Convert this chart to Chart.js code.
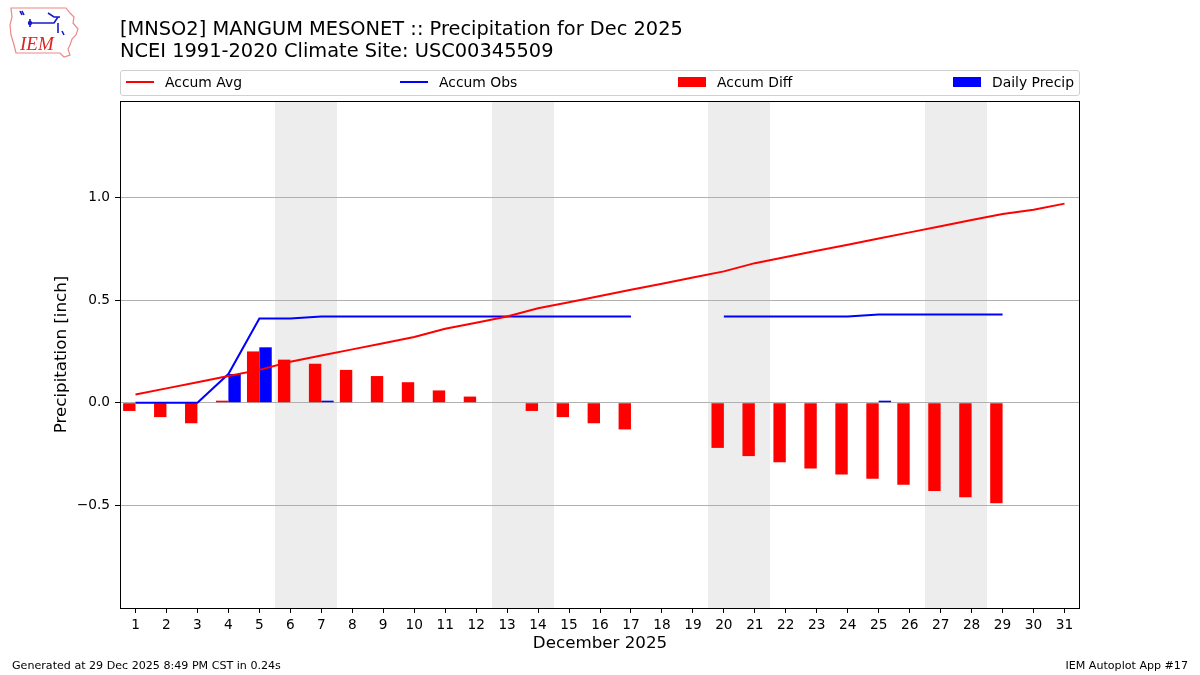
<!DOCTYPE html>
<html>
<head>
<meta charset="utf-8">
<title>MNSO2 Precipitation Dec 2025</title>
<script src="https://cdn.jsdelivr.net/npm/chart.js@4/dist/chart.umd.min.js"></script>
<style>
  body { margin: 0; background: #fff; font-family: 'DejaVu Sans', sans-serif; }
  #wrap { position: relative; width: 1200px; height: 675px; overflow: hidden; }
  #chart { position: absolute; left: 0; top: 0; }
  .title { position: absolute; left: 120px; font-size: 19.4px; color: #000; white-space: nowrap; }
  #legend { position: absolute; left: 120px; top: 70px; width: 958px; height: 24px;
            border: 1px solid #d0d0d0; border-radius: 3px; background: #fff; }
  .item { position: absolute; top: 0; height: 24px; line-height: 23px; font-size: 13.9px; white-space: nowrap; }
  .swatch { position: absolute; }
  .foot { position: absolute; top: 659px; font-size: 11.1px; color: #000; white-space: nowrap; }
  #logo { position: absolute; left: 8px; top: 5px; }
</style>
</head>
<body>
<div id="wrap">
  <canvas id="chart" width="1200" height="675"></canvas>
  <svg id="logo" width="74" height="54" viewBox="0 0 74 54">
    <path d="M3 3 L58 3 L62 8 L66 12 L65 18 L70 24 L68 30 L64 34 L62 40 L60 44 L62 50 L56 52 L52 48 L8 48 L6 40 L3 30 L2 20 L4 12 Z"
          fill="none" stroke="#e88" stroke-width="1.2"/>
    <path d="M12 6 L14 10 M14 6 L16 10 M20 18 L46 18 L50 12 M40 8 L46 12 L52 12 M22 14 L22 22 M50 18 L50 28 M54 26 L56 30"
          fill="none" stroke="#1a1acc" stroke-width="1.6"/>
    <circle cx="22" cy="18" r="2.2" fill="#1a1acc"/>
    <text x="12" y="45" font-family="Liberation Serif, serif" font-style="italic" font-size="19" fill="#d22">IEM</text>
  </svg>
  <div class="title" style="top: 17px;">[MNSO2] MANGUM MESONET :: Precipitation for Dec 2025</div>
  <div class="title" style="top: 39px;">NCEI 1991-2020 Climate Site: USC00345509</div>
  <div id="legend"></div>
  <div class="foot" style="left: 12px;">Generated at 29 Dec 2025 8:49 PM CST in 0.24s</div>
  <div class="foot" style="right: 12px;">IEM Autoplot App #17</div>
</div>
<script>
// days of the month
const days = [1,2,3,4,5,6,7,8,9,10,11,12,13,14,15,16,17,18,19,20,21,22,23,24,25,26,27,28,29,30,31];

// climate average, accumulated (inch)
const accumAvg = [0.04,0.07,0.10,0.13,0.16,0.20,0.23,0.26,0.29,0.32,0.36,0.39,0.42,0.46,0.49,0.52,
                  0.55,0.58,0.61,0.64,0.68,0.71,0.74,0.77,0.80,0.83,0.86,0.89,0.92,0.94,0.97];

// observed, accumulated (missing days are null)
const accumObs = [0,0,0,0.14,0.41,0.41,0.42,0.42,0.42,0.42,0.42,0.42,0.42,0.42,0.42,0.42,
                  0.42,null,null,0.42,0.42,0.42,0.42,0.42,0.43,0.43,0.43,0.43,0.43,null,null];

// obs minus avg
const accumDiff = [-0.04,-0.07,-0.10,0.01,0.25,0.21,0.19,0.16,0.13,0.10,0.06,0.03,0.00,-0.04,-0.07,-0.10,
                   -0.13,null,null,-0.22,-0.26,-0.29,-0.32,-0.35,-0.37,-0.40,-0.43,-0.46,-0.49,null,null];

// daily precip
const dailyPrecip = [0,0,0,0.14,0.27,0,0.01,0,0,0,0,0,0,0,0,0,
                     0,null,null,0,0,0,0,0,0.01,0,0,0,0,null,null];

const yTicks = [-0.5, 0, 0.5, 1.0];
// saturday / sunday pairs
const weekends = [[6, 7], [13, 14], [20, 21], [27, 28]];

Chart.defaults.font.family = "'DejaVu Sans', sans-serif";
Chart.defaults.color = '#000';

// grey bands behind weekends, drawn before grid and data
const weekendShade = {
    id: 'weekendShade',
    beforeDraw(chart) {
        const {ctx, chartArea, scales} = chart;
        const x = scales.x;
        const half = (x.getPixelForValue(1) - x.getPixelForValue(0)) / 2;
        ctx.save();
        ctx.fillStyle = '#ededed';
        weekends.forEach(([a, b]) => {
            const x0 = Math.round(x.getPixelForValue(days.indexOf(a)) - half);
            const x1 = Math.round(x.getPixelForValue(days.indexOf(b)) + half);
            ctx.fillRect(x0, chartArea.top, x1 - x0, chartArea.bottom - chartArea.top);
        });
        ctx.restore();
    }
};

// black box round the plot
const frame = {
    id: 'frame',
    afterDraw(chart) {
        const {ctx, chartArea} = chart;
        ctx.save();
        ctx.strokeStyle = '#000';
        ctx.lineWidth = 1;
        ctx.strokeRect(chartArea.left + 0.5, chartArea.top + 0.5,
                       chartArea.right - chartArea.left - 1, chartArea.bottom - chartArea.top);
        ctx.restore();
    }
};

const chart = new Chart('chart', {
    type: 'bar',
    data: {
        labels: days.map(String),
        datasets: [
            {
                type: 'line', label: 'Accum Avg', data: accumAvg,
                borderColor: '#ff0000', backgroundColor: '#ff0000',
                borderWidth: 2, pointRadius: 0, tension: 0
            },
            {
                type: 'line', label: 'Accum Obs', data: accumObs,
                borderColor: '#0000ff', backgroundColor: '#0000ff',
                borderWidth: 2, pointRadius: 0, tension: 0, spanGaps: false
            },
            {
                label: 'Accum Diff', data: accumDiff,
                backgroundColor: '#ff0000', borderWidth: 0,
                categoryPercentage: 0.8, barPercentage: 1.0
            },
            {
                label: 'Daily Precip', data: dailyPrecip,
                backgroundColor: '#0000ff', borderWidth: 0,
                categoryPercentage: 0.8, barPercentage: 1.0
            }
        ]
    },
    options: {
        responsive: false,
        animation: false,
        layout: { padding: { left: 0, right: 120, top: 101, bottom: 0 } },
        plugins: {
            legend: { display: false },
            tooltip: { enabled: false }
        },
        scales: {
            x: {
                offset: true,
                grid: { drawOnChartArea: false, drawTicks: true, tickLength: 5, tickColor: '#000', offset: false },
                border: { display: false },
                ticks: { autoSkip: false, maxRotation: 0, padding: 4, font: { size: 13.7 } },
                title: { display: true, text: 'December 2025', font: { size: 16.7 }, padding: { top: 0, bottom: 21 } },
                afterFit(scale) { scale.height = 67; }
            },
            y: {
                min: -1.0,
                max: 1.47,
                afterBuildTicks(scale) { scale.ticks = yTicks.map(v => ({ value: v })); },
                grid: { color: '#b0b0b0', lineWidth: 1, tickLength: 5, tickColor: '#000' },
                border: { display: false },
                ticks: {
                    padding: 5,
                    font: { size: 13.7 },
                    callback: v => (v < 0 ? '\u2212' + Math.abs(v).toFixed(1) : v.toFixed(1))
                },
                title: { display: true, text: 'Precipitation [inch]', font: { size: 16.7 }, padding: { top: 52, bottom: 0 } },
                afterFit(scale) { scale.width = 120; }
            }
        }
    },
    plugins: [weekendShade, frame]
});

// matplotlib style legend: four columns spread over the plot width
const legendSpots = [126, 400, 678, 953];
const legendBox = document.getElementById('legend');
chart.data.datasets.forEach((ds, i) => {
    const left = legendSpots[i] - 121;
    const sw = document.createElement('div');
    sw.className = 'swatch';
    sw.style.left = left + 'px';
    sw.style.width = '28px';
    sw.style.background = ds.backgroundColor;
    if (ds.type === 'line') {
        sw.style.top = '10px';
        sw.style.height = '2px';
    } else {
        sw.style.top = '6px';
        sw.style.height = '10px';
    }
    legendBox.appendChild(sw);

    const txt = document.createElement('div');
    txt.className = 'item';
    txt.style.left = (left + 39) + 'px';
    txt.textContent = ds.label;
    legendBox.appendChild(txt);
});
</script>
</body>
</html>
